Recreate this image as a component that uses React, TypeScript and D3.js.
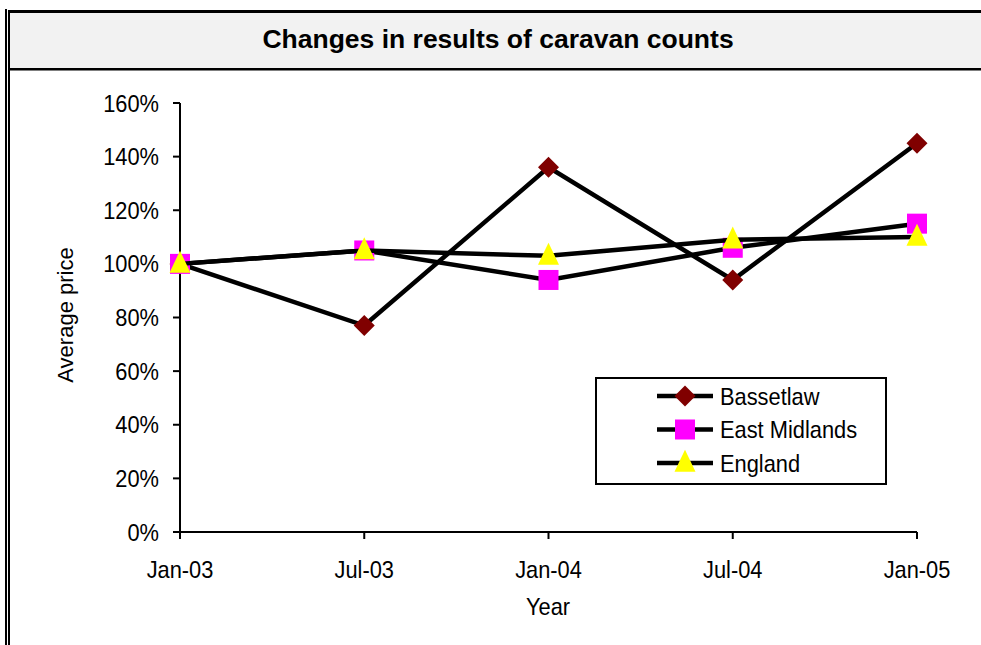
import React, { useEffect } from "react";
import * as d3 from "d3";

const categories = ["Jan-03", "Jul-03", "Jan-04", "Jul-04", "Jan-05"];
const bassetlaw = [1.0, 0.77, 1.36, 0.94, 1.45];
const eastMidlands = [1.0, 1.05, 0.94, 1.06, 1.15];
const england = [1.0, 1.05, 1.03, 1.09, 1.1];
const yTicks = [0, 0.2, 0.4, 0.6, 0.8, 1.0, 1.2, 1.4, 1.6];
const seriesNames = ["Bassetlaw", "East Midlands", "England"];

const W = 981;
const H = 645;
const FONT = "'Liberation Sans', Arial, sans-serif";
const SX = 0.91;

function Txt({
  x,
  y,
  anchor,
  children,
}: {
  x: number;
  y: number;
  anchor?: string;
  children: React.ReactNode;
}) {
  return (
    <g transform={`translate(${x},${y}) scale(${SX},1)`}>
      <text x={0} y={0} textAnchor={anchor || "start"} fontSize={24} fill="#000">
        {children}
      </text>
    </g>
  );
}

function Marker({ kind, x, y }: { kind: string; x: number; y: number }) {
  if (kind === "diamond") {
    const r = 10.5;
    return (
      <path
        d={`M${x},${y - r}L${x + r},${y}L${x},${y + r}L${x - r},${y}Z`}
        fill="#800000"
      />
    );
  }
  if (kind === "square") {
    const s = 10;
    return <rect x={x - s} y={y - s} width={2 * s} height={2 * s} fill="#ff00ff" />;
  }
  const h = 22;
  const w = 21;
  return (
    <path
      d={`M${x},${y - h * 0.6}L${x + w / 2},${y + h * 0.4}L${x - w / 2},${y + h * 0.4}Z`}
      fill="#ffff00"
    />
  );
}

export default function App() {
  useEffect(() => {
    document.body.style.margin = "0";
    document.body.style.overflow = "hidden";
    document.documentElement.style.overflow = "hidden";
  }, []);

  const x = d3.scalePoint<string>().domain(categories).range([180, 917]);
  const y = d3.scaleLinear().domain([0, 1.6]).range([532, 103]);
  const line = d3
    .line<number>()
    .x((_, i) => x(categories[i]) as number)
    .y((d) => y(d));

  const series = [
    { name: seriesNames[0], values: bassetlaw, kind: "diamond" },
    { name: seriesNames[1], values: eastMidlands, kind: "square" },
    { name: seriesNames[2], values: england, kind: "triangle" },
  ];
  const pct = d3.format(".0%");

  return (
    <svg
      width={W}
      height={H}
      style={{ position: "fixed", left: 0, top: 0, display: "block", background: "#fff" }}
      fontFamily={FONT}
    >
      <rect x={0} y={0} width={W} height={H} fill="#fff" />
      {/* title band */}
      <rect x={10} y={13} width={W - 10} height={55} fill="#f2f2f2" />
      <rect x={8} y={10} width={W - 8} height={3} fill="#000" />
      <rect x={8} y={68} width={W - 8} height={2.5} fill="#000" />
      {/* left double border */}
      <rect x={5} y={9} width={2} height={H - 9} fill="#000" />
      <rect x={8} y={10} width={2} height={H - 10} fill="#000" />
      <text
        x={498}
        y={48}
        textAnchor="middle"
        fontSize={26.5}
        fontWeight="bold"
        fill="#000"
      >
        Changes in results of caravan counts
      </text>

      {/* y axis */}
      <line x1={180} x2={180} y1={y(1.6)} y2={y(0) + 6} stroke="#000" strokeWidth={2} />
      {yTicks.map((t) => (
        <g key={t}>
          <line x1={173} x2={180} y1={y(t)} y2={y(t)} stroke="#000" strokeWidth={2} />
          <Txt x={159} y={y(t) + 8.5} anchor="end">
            {pct(t)}
          </Txt>
        </g>
      ))}
      {/* x axis */}
      <line x1={173} x2={917} y1={y(0)} y2={y(0)} stroke="#000" strokeWidth={2} />
      {categories.map((c) => (
        <g key={c}>
          <line
            x1={x(c)}
            x2={x(c)}
            y1={y(0)}
            y2={y(0) + 7}
            stroke="#000"
            strokeWidth={2}
          />
          <Txt x={x(c) as number} y={578} anchor="middle">
            {c}
          </Txt>
        </g>
      ))}
      <Txt x={548} y={615} anchor="middle">
        Year
      </Txt>
      <text
        transform={`translate(73,315) rotate(-90)`}
        textAnchor="middle"
        fontSize={22}
        fill="#000"
      >
        Average price
      </text>

      {/* series */}
      {series.map((s) => (
        <g key={s.name}>
          <path d={line(s.values) || ""} fill="none" stroke="#000" strokeWidth={4.5} />
          {s.values.map((v, i) => (
            <Marker key={i} kind={s.kind} x={x(categories[i]) as number} y={y(v)} />
          ))}
        </g>
      ))}

      {/* legend */}
      <rect x={596} y={378} width={290} height={106} fill="#fff" stroke="#000" strokeWidth={2} />
      {series.map((s, i) => {
        const ly = 396 + i * 33.5;
        return (
          <g key={s.name}>
            <line x1={657} x2={713} y1={ly} y2={ly} stroke="#000" strokeWidth={4.5} />
            <Marker kind={s.kind} x={685} y={ly} />
            <Txt x={720} y={ly + 8.5}>
              {s.name}
            </Txt>
          </g>
        );
      })}
    </svg>
  );
}
